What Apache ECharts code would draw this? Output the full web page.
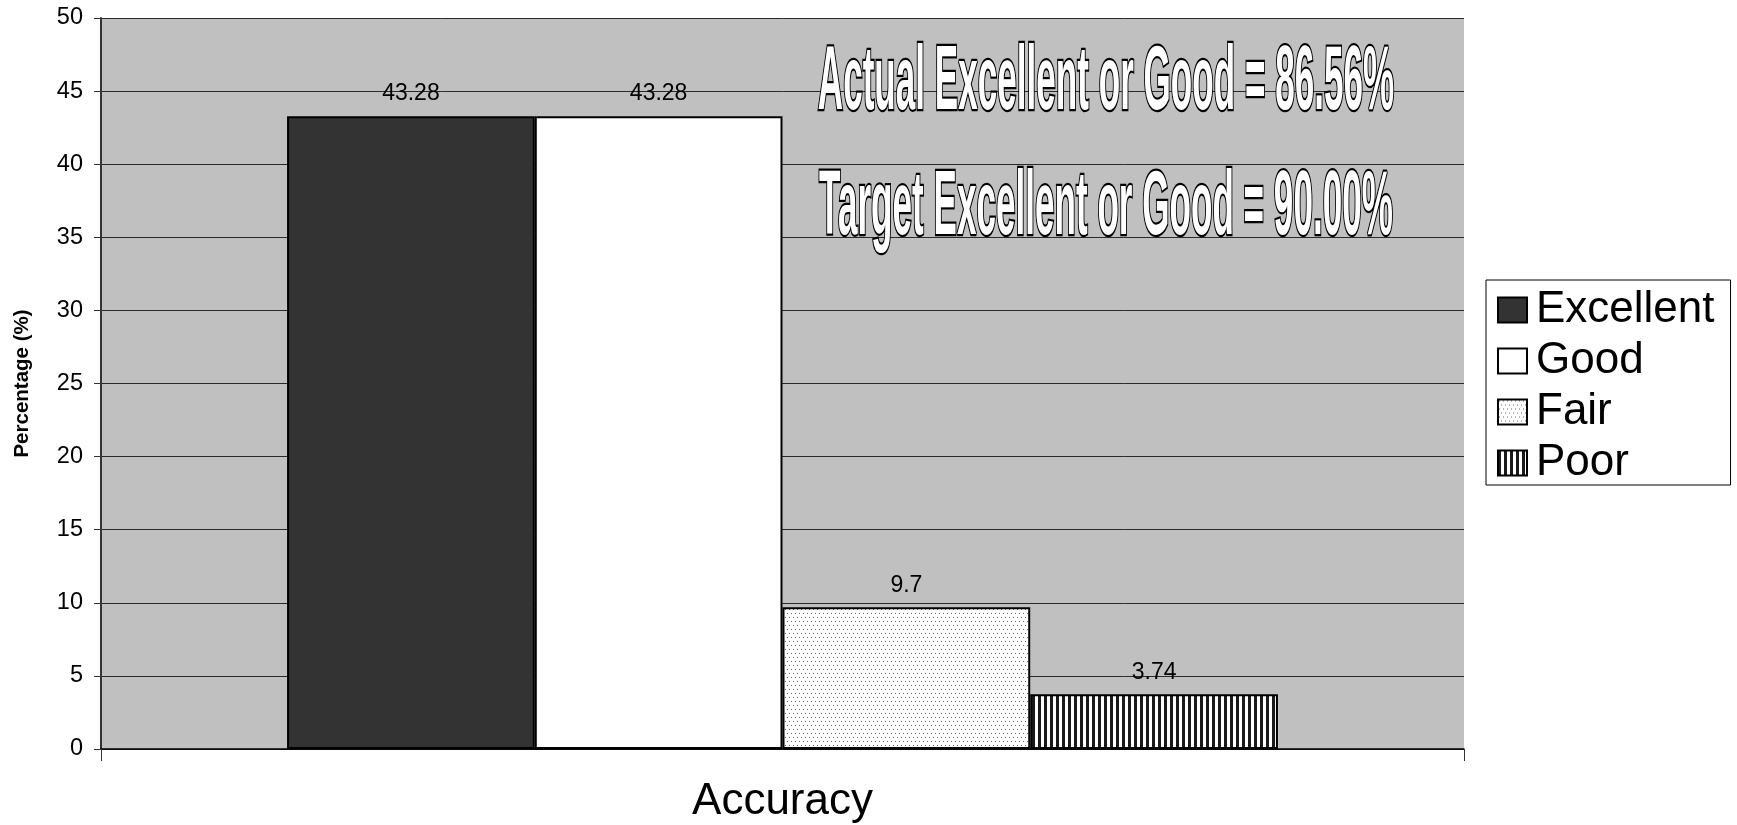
<!DOCTYPE html>
<html>
<head>
<meta charset="utf-8">
<script src="https://cdn.jsdelivr.net/npm/echarts@6/dist/echarts.min.js"></script>
<style>
  html, body { margin: 0; padding: 0; background: #fff; }
  #chart { width: 1737px; height: 825px; }
</style>
</head>
<body>
<div id="chart"></div>
<script>
// Accuracy ratings (percent of responses)
const categories = ['Accuracy'];
const ratingNames = ['Excellent', 'Good', 'Fair', 'Poor'];
const ratingValues = [43.28, 43.28, 9.7, 3.74];
const summaryLines = [
  'Actual Excellent or Good = 86.56%',
  'Target Excellent or Good = 90.00%'
];

const FONT = '"Liberation Sans", Arial, sans-serif';

// Small repeating tiles used as bar fills
function dotTile() {
  const c = document.createElement('canvas');
  c.width = 8; c.height = 8;
  const g = c.getContext('2d');
  g.fillStyle = '#ffffff';
  g.fillRect(0, 0, 8, 8);
  g.fillStyle = '#6a6a6a';
  [[1, 1], [5, 1], [3, 5], [7, 5]].forEach(p => g.fillRect(p[0], p[1], 1, 1));
  return c;
}
function stripeTile() {
  const c = document.createElement('canvas');
  c.width = 6; c.height = 6;
  const g = c.getContext('2d');
  g.fillStyle = '#ffffff';
  g.fillRect(0, 0, 6, 6);
  g.fillStyle = '#1a1a1a';
  g.fillRect(0, 0, 3, 6);
  return c;
}

const fills = [
  '#333333',
  '#ffffff',
  { image: dotTile(), repeat: 'repeat' },
  { image: stripeTile(), repeat: 'repeat' }
];
const labelDistance = [11, 11, 10, 10];

const series = ratingNames.map((name, i) => ({
  name: name,
  type: 'bar',
  data: [ratingValues[i]],
  barGap: '0%',
  barCategoryGap: '27.3%',
  itemStyle: { color: fills[i], borderColor: '#000', borderWidth: 2 },
  label: {
    show: true,
    position: 'top',
    distance: labelDistance[i],
    fontFamily: FONT,
    fontSize: 23,
    color: '#000'
  },
  emphasis: { disabled: true }
}));

const chart = echarts.init(document.getElementById('chart'), null, { renderer: 'canvas' });

chart.setOption({
  animation: false,
  backgroundColor: '#ffffff',
  grid: {
    left: 101, right: 273, top: 18, bottom: 76,
    show: true, backgroundColor: '#c0c0c0', borderWidth: 0
  },
  xAxis: {
    type: 'category',
    data: categories,
    axisLine: { show: true, lineStyle: { color: '#000', width: 1.5 } },
    axisTick: { show: true, length: 12, lineStyle: { color: '#333' } },
    axisLabel: { fontFamily: FONT, fontSize: 44, color: '#000', margin: 31 },
    splitLine: { show: false }
  },
  yAxis: {
    type: 'value',
    min: 0, max: 50, interval: 5,
    name: 'Percentage (%)',
    nameLocation: 'middle',
    nameGap: 68,
    nameRotate: 90,
    nameTextStyle: { fontFamily: FONT, fontSize: 20.5, fontWeight: 'bold', color: '#000' },
    axisLine: { show: true, lineStyle: { color: '#333', width: 2 } },
    axisTick: { show: true, inside: false, length: 7, lineStyle: { color: '#333' } },
    axisLabel: { fontFamily: FONT, fontSize: 23.5, color: '#000', margin: 18 },
    splitLine: { show: true, lineStyle: { color: '#2a2a2a', width: 1 } }
  },
  legend: {
    orient: 'vertical',
    left: 1486, top: 280,
    padding: [8, 16, 0, 11],
    itemGap: 7,
    itemWidth: 29,
    itemHeight: 25,
    icon: 'rect',
    backgroundColor: '#ffffff',
    borderColor: '#000',
    borderWidth: 1,
    selectedMode: false,
    textStyle: { fontFamily: FONT, fontSize: 44, color: '#000', lineHeight: 42, padding: [0, 0, 0, 4] },
    data: ratingNames
  },
  graphic: summaryLines.map((txt, i) => ({
    type: 'text',
    x: 1106,
    y: i === 0 ? 84 : 209,
    scaleX: 0.39,
    scaleY: 1.0,
    silent: true,
    z: 100,
    style: {
      text: txt,
      font: 'bold 90px ' + FONT,
      fill: '#ffffff',
      stroke: '#000000',
      lineWidth: 4.5,
      align: 'center',
      verticalAlign: 'middle'
    }
  })),
  series: series
});
</script>
</body>
</html>
